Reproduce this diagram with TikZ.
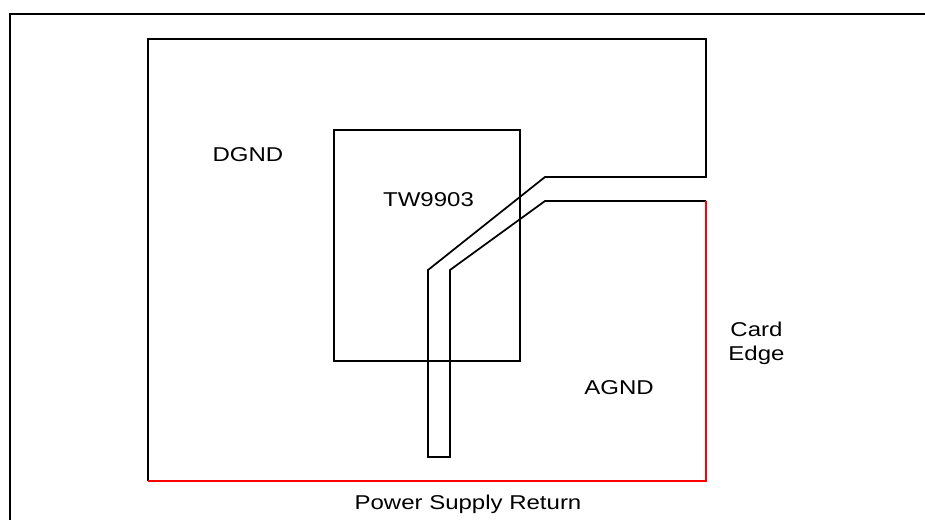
\documentclass[tikz,border=0pt]{standalone}
\usepackage{fontspec}
\setmainfont[FakeStretch=1.2]{Liberation Sans}
\definecolor{edgered}{RGB}{255,0,0}
\tikzset{
  outline/.style={draw=black,line width=1.3pt,line join=miter},
  frameline/.style={draw=black,line width=1.5pt,line join=miter},
  redge/.style={draw=edgered,line width=1.3pt,line join=miter},
  lbl/.style={inner sep=0pt,anchor=base,font=\fontsize{15pt}{18pt}\selectfont,text=black,align=center}
}
\begin{document}
\begin{tikzpicture}[x=0.75pt,y=-0.75pt]
\useasboundingbox (0,0) rectangle (925,520);
% page frame, running off the picture
\draw[frameline] (10,520) -- (10,14.5) -- (925,14.5);
% chip
\draw[outline] (334,130) rectangle (520,361);
% ground plane outline with slot
\draw[outline] (148,481) -- (148,39) -- (706,39) -- (706,177) -- (545,177) -- (428,270) -- (428,457) -- (450,457) -- (450,270) -- (545,201) -- (706,201);
% red edges
\draw[redge] (706,201) -- (706,481) -- (148,481);
\node[lbl] (dgnd) at (248,161.5) {DGND};
\node[lbl] (tw) at (428.5,207) {TW9903};
\node[lbl] (agnd) at (619,394) {AGND};
\node[lbl,anchor=center] (card) at (756.5,343) {Card\\Edge};
\node[lbl] (psr) at (468,509) {Power Supply Return};
\end{tikzpicture}
\end{document}
